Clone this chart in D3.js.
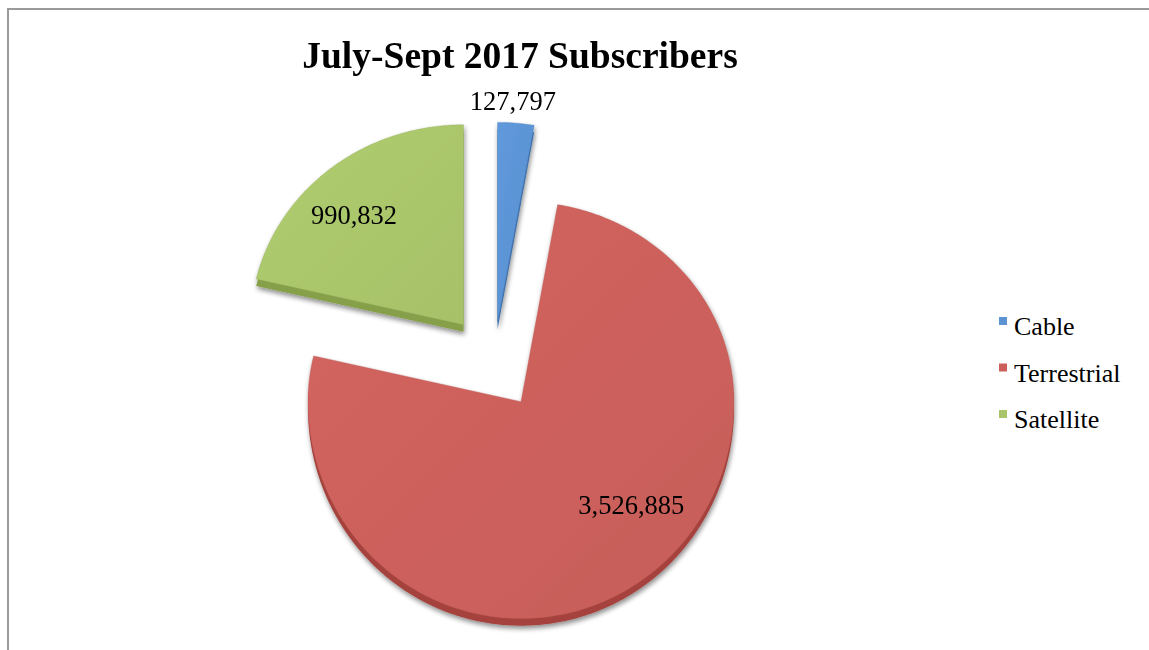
<!DOCTYPE html>
<html>
<head>
<meta charset="utf-8">
<script src="https://cdn.jsdelivr.net/npm/d3@7"></script>
<style>
  html, body { margin: 0; padding: 0; background: #ffffff; }
  svg { display: block; font-family: "Liberation Serif", "Times New Roman", serif; }
</style>
</head>
<body>
<svg id="chart" width="1149" height="650"></svg>
<script>
// Subscribers by platform, July–September 2017
const categories = ["Cable", "Terrestrial", "Satellite"];
const subscribers = [127797, 3526885, 990832];
const chartTitle = "July-Sept 2017 Subscribers";

const faceColors = ["#5b93d3", "#cb605b", "#a9c46a"];
const sideColors = ["#3e70ab", "#a5423d", "#86a04a"];

// Layout of the exploded, slightly tilted pie
const W = 1149, H = 650;
const pieCenter = { x: 494, y: 362 };
const radiusX = 213, radiusTop = 200, radiusBottom = 217;
const explode = [41, 49, 49];          // how far each slice is pulled out
const depth = 7;                       // visible thickness of the slice sides
const labelPlacement = [               // distance from slice tip and angle nudge (deg)
  { r: 222, da: -1.0 },
  { r: 151, da: -13.5 },
  { r: 155, da: -6.6 }
];

const svg = d3.select("#chart");

// Frame
svg.append("path")
  .attr("d", `M8,${H} V9 H${W}`)
  .attr("fill", "none")
  .attr("stroke", "#9a9a9a")
  .attr("stroke-width", 2);

// Soft drop shadow under the slices
const defs = svg.append("defs");
const f = defs.append("filter").attr("id", "shadow")
  .attr("x", "-10%").attr("y", "-10%").attr("width", "130%").attr("height", "130%");
f.append("feGaussianBlur").attr("in", "SourceAlpha").attr("stdDeviation", 2.5).attr("result", "b");
f.append("feOffset").attr("in", "b").attr("dx", 1).attr("dy", 3).attr("result", "o");
f.append("feComponentTransfer").attr("in", "o").attr("result", "s")
  .append("feFuncA").attr("type", "linear").attr("slope", 0.45);
const m = f.append("feMerge");
m.append("feMergeNode").attr("in", "s");
m.append("feMergeNode").attr("in", "SourceGraphic");

// Light gradient on each face
faceColors.forEach((c, i) => {
  const g = defs.append("linearGradient").attr("id", "face" + i)
    .attr("x1", "0").attr("y1", "0").attr("x2", "1").attr("y2", "1");
  g.append("stop").attr("offset", "0%").attr("stop-color", d3.color(c).brighter(0.12));
  g.append("stop").attr("offset", "100%").attr("stop-color", d3.color(c).darker(0.05));
});

const pie = d3.pie().sort(null).value(d => d).startAngle(0).endAngle(2 * Math.PI);
const arcs = pie(subscribers);

// Point on the tilted rim, angle measured clockwise from 12 o'clock
function rim(a) {
  const c = Math.cos(a);
  return [radiusX * Math.sin(a), -(c > 0 ? radiusTop : radiusBottom) * c];
}

function tipOf(d, i) {
  const mid = (d.startAngle + d.endAngle) / 2;
  return [pieCenter.x + explode[i] * Math.sin(mid),
          pieCenter.y - explode[i] * Math.cos(mid) * 0.97];
}

function outline(d, i) {
  const [vx, vy] = tipOf(d, i);
  const pts = [[vx, vy]];
  const steps = Math.max(4, Math.ceil((d.endAngle - d.startAngle) / 0.01));
  const angle = d3.scaleLinear().domain([0, steps]).range([d.startAngle, d.endAngle]);
  for (let k = 0; k <= steps; k++) {
    const [dx, dy] = rim(angle(k));
    pts.push([vx + dx, vy + dy]);
  }
  return pts;
}

const line = d3.line().curve(d3.curveLinearClosed);
const slices = svg.append("g").attr("filter", "url(#shadow)");

const sliceG = slices.selectAll("g.slice")
  .data(arcs)
  .join("g")
  .attr("class", "slice");

// sides first, then top faces
sliceG.append("path")
  .attr("d", (d, i) => line(outline(d, i)))
  .attr("transform", `translate(0,${depth})`)
  .attr("fill", (d, i) => sideColors[i]);

sliceG.append("path")
  .attr("d", (d, i) => line(outline(d, i)))
  .attr("fill", (d, i) => `url(#face${i})`)
  .attr("stroke", (d, i) => d3.color(faceColors[i]).darker(0.4))
  .attr("stroke-width", 0.6)
  .attr("stroke-opacity", 0.6);

// Value labels
const fmt = d3.format(",");
svg.append("g").selectAll("text")
  .data(arcs)
  .join("text")
  .attr("x", (d, i) => {
    const [vx] = tipOf(d, i);
    const a = (d.startAngle + d.endAngle) / 2 + labelPlacement[i].da * Math.PI / 180;
    return vx + labelPlacement[i].r * Math.sin(a);
  })
  .attr("y", (d, i) => {
    const [, vy] = tipOf(d, i);
    const a = (d.startAngle + d.endAngle) / 2 + labelPlacement[i].da * Math.PI / 180;
    return vy - labelPlacement[i].r * Math.cos(a);
  })
  .attr("text-anchor", "middle")
  .attr("dominant-baseline", "central")
  .attr("font-size", 26.5)
  .attr("fill", "#000")
  .text(d => fmt(d.data));

// Title
svg.append("text")
  .attr("x", 520)
  .attr("y", 68)
  .attr("text-anchor", "middle")
  .attr("font-size", 37.5)
  .attr("font-weight", "bold")
  .attr("fill", "#000")
  .text(chartTitle);

// Legend
const legend = svg.append("g").attr("transform", "translate(999,335)");
const rowY = d3.scalePoint().domain(categories).range([0, 93]);
const item = legend.selectAll("g")
  .data(categories)
  .join("g")
  .attr("transform", d => `translate(0,${rowY(d)})`);
item.append("rect")
  .attr("x", 0).attr("y", -18)
  .attr("width", 8).attr("height", 8)
  .attr("fill", (d, i) => faceColors[i]);
item.append("text")
  .attr("x", 15).attr("y", 0)
  .attr("font-size", 26)
  .attr("fill", "#000")
  .text(d => d);
</script>
</body>
</html>
